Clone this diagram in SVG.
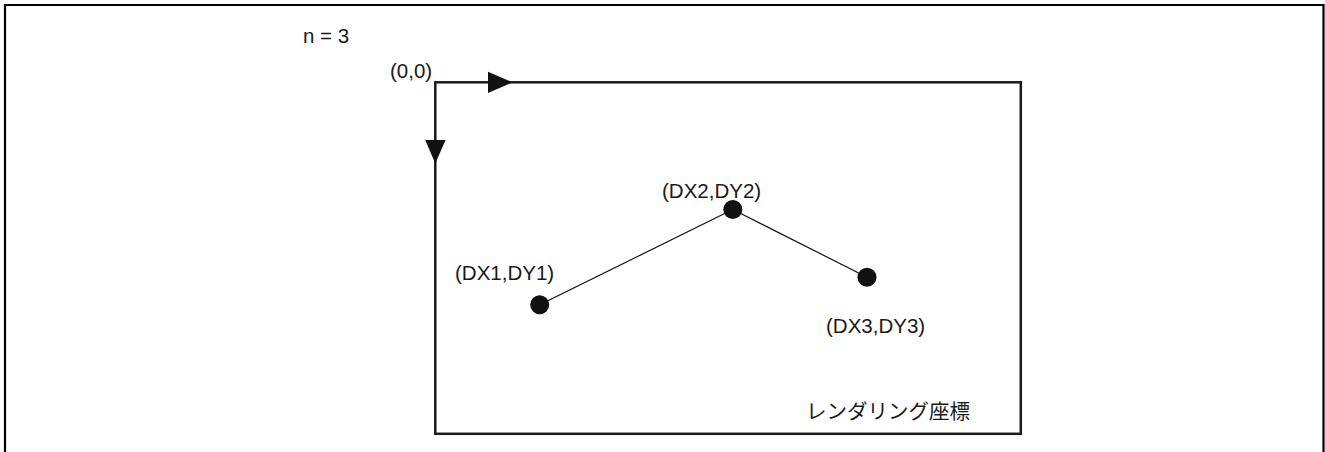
<svg xmlns="http://www.w3.org/2000/svg" width="1325" height="452" viewBox="0 0 1325 452">
  <style>
    .lbl { font-family: "Liberation Sans", Arial, sans-serif; font-size: 20.5px; fill: #1a1a1a; }
    .jp { font-family: "Liberation Sans", "Noto Sans CJK JP", sans-serif; font-size: 20.5px; fill: #1a1a1a; }
    .frame { fill: none; stroke: #000; stroke-width: 2.2; }
    .axis { fill: none; stroke: #1a1a1a; stroke-width: 2.5; }
    .seg { fill: none; stroke: #111; stroke-width: 1.2; }
    .dot { fill: #111; }
    .head { fill: #111; }
  </style>

  <!-- outer frame, open at the bottom -->
  <path class="frame" d="M5,452 V5 H1323.5 V452"/>

  <text class="lbl" x="303" y="43">n = 3</text>

  <!-- rendering coordinate area -->
  <g id="coord-area">
    <rect class="axis" x="435.3" y="82.3" width="585.5" height="351.5"/>
    <path class="head" d="M488,71.7 L512.5,82.3 L488,92.9 Z"/>
    <path class="head" d="M425.2,140 L435.3,163.5 L445.6,140 Z"/>
    <text class="lbl" x="390" y="78">(0,0)</text>
    <text class="jp" x="806" y="419">レンダリング座標</text>
  </g>

  <!-- polyline segments -->
  <g id="connectors">
    <line class="seg" x1="539.7" y1="304.8" x2="732.8" y2="209.5"/>
    <line class="seg" x1="732.8" y1="209.5" x2="867" y2="277.2"/>
  </g>

  <g id="p1">
    <circle class="dot" cx="539.7" cy="304.8" r="9.5"/>
    <text class="lbl" x="455" y="280">(DX1,DY1)</text>
  </g>
  <g id="p2">
    <circle class="dot" cx="732.8" cy="209.5" r="9.5"/>
    <text class="lbl" x="662" y="197.5">(DX2,DY2)</text>
  </g>
  <g id="p3">
    <circle class="dot" cx="867" cy="277.2" r="9.5"/>
    <text class="lbl" x="826" y="333">(DX3,DY3)</text>
  </g>
</svg>
